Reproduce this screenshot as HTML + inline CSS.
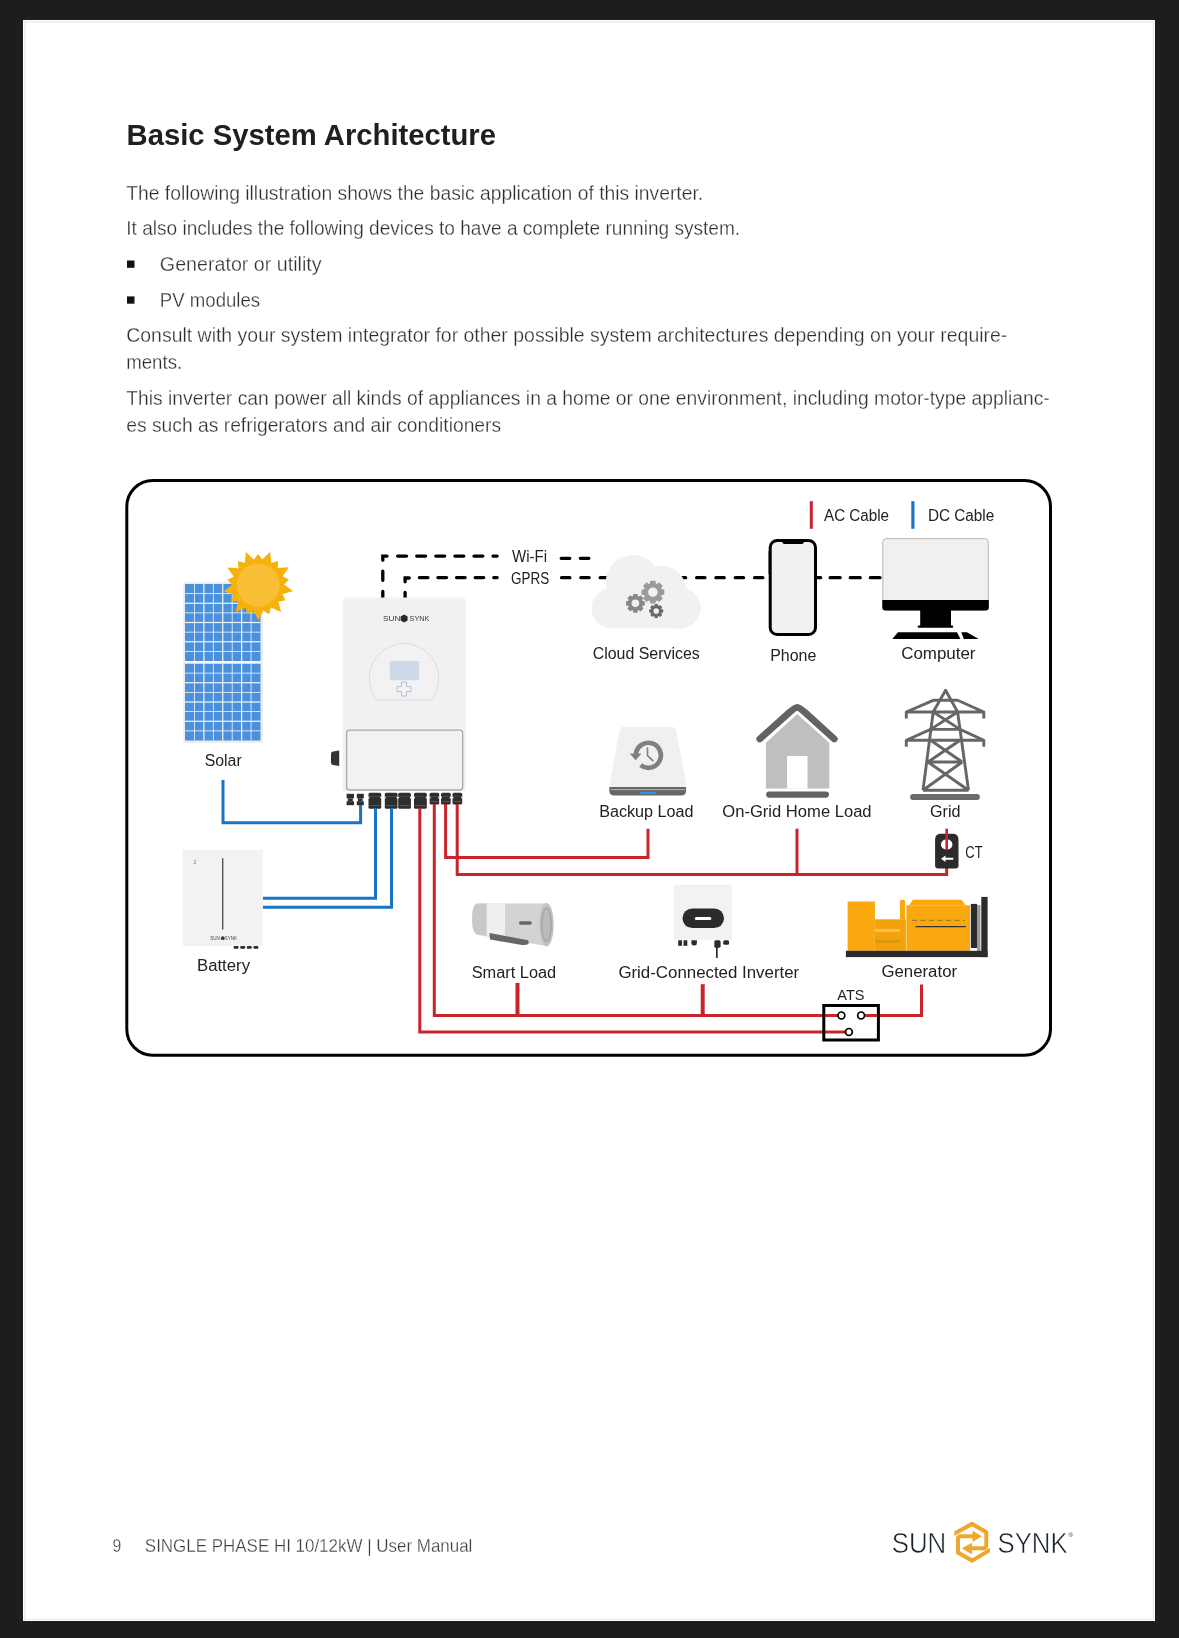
<!DOCTYPE html>
<html><head><meta charset="utf-8"><style>
html,body{margin:0;padding:0;background:#1d1d1f;}
body{width:1179px;height:1638px;position:relative;overflow:hidden;font-family:"Liberation Sans",sans-serif;}
.page{position:absolute;left:23px;top:20px;width:1132px;height:1601px;background:#fff;box-shadow:inset 1px 1px 0 #fff, inset 2.5px 2.5px 0 #ececec, inset -1px -1px 0 #fff, inset -2.5px -2.5px 0 #efefef;}
svg{position:absolute;left:0;top:0;}
svg text{font-family:"Liberation Sans",sans-serif;}
</style></head><body>
<div class="page"></div>
<svg width="1179" height="1638" viewBox="0 0 1179 1638">
<g style="will-change:transform">
<text x="126.60" y="144.70" font-size="30" fill="#1f1f1f" font-weight="bold" textLength="369.41" lengthAdjust="spacingAndGlyphs">Basic System Architecture</text>
<text x="126.25" y="200.40" font-size="20" fill="#2e2e2e" textLength="576.91" lengthAdjust="spacingAndGlyphs" stroke="#fff" stroke-width="0.3">The following illustration shows the basic application of this inverter.</text>
<text x="126.25" y="235.30" font-size="20" fill="#2e2e2e" textLength="613.90" lengthAdjust="spacingAndGlyphs" stroke="#fff" stroke-width="0.3">It also includes the following devices to have a complete running system.</text>
<rect x="127" y="260.5" width="7.5" height="7.3" fill="#111"/>
<text x="159.85" y="270.80" font-size="20" fill="#2e2e2e" textLength="161.79" lengthAdjust="spacingAndGlyphs" stroke="#fff" stroke-width="0.3">Generator or utility</text>
<rect x="127" y="296.4" width="7.5" height="7.3" fill="#111"/>
<text x="159.85" y="307.00" font-size="20" fill="#2e2e2e" textLength="100.29" lengthAdjust="spacingAndGlyphs" stroke="#fff" stroke-width="0.3">PV modules</text>
<text x="126.25" y="342.10" font-size="20" fill="#2e2e2e" textLength="881.09" lengthAdjust="spacingAndGlyphs" stroke="#fff" stroke-width="0.3">Consult with your system integrator for other possible system architectures depending on your require-</text>
<text x="126.25" y="369.00" font-size="20" fill="#2e2e2e" textLength="55.90" lengthAdjust="spacingAndGlyphs" stroke="#fff" stroke-width="0.3">ments.</text>
<text x="126.25" y="404.60" font-size="20" fill="#2e2e2e" textLength="923.51" lengthAdjust="spacingAndGlyphs" stroke="#fff" stroke-width="0.3">This inverter can power all kinds of appliances in a home or one environment, including motor-type applianc-</text>
<text x="126.25" y="432.00" font-size="20" fill="#2e2e2e" textLength="374.90" lengthAdjust="spacingAndGlyphs" stroke="#fff" stroke-width="0.3">es such as refrigerators and air conditioners</text>
<text x="112.55" y="1551.80" font-size="17.6" fill="#3c3c3c" textLength="8.80" lengthAdjust="spacingAndGlyphs" stroke="#fff" stroke-width="0.3">9</text>
<text x="144.85" y="1551.80" font-size="17.6" fill="#3c3c3c" textLength="327.51" lengthAdjust="spacingAndGlyphs" stroke="#fff" stroke-width="0.3">SINGLE PHASE HI 10/12kW | User Manual</text>
<text x="891.70" y="1552.90" font-size="29.5" fill="#18202a" textLength="54.61" lengthAdjust="spacingAndGlyphs" stroke="#fff" stroke-width="0.6">SUN</text>
<text x="997.50" y="1552.90" font-size="29.5" fill="#18202a" textLength="70.10" lengthAdjust="spacingAndGlyphs" stroke="#fff" stroke-width="0.6">SYNK</text>
<text x="1068.5" y="1537" font-size="6" fill="#1e2630">®</text>
<g fill="none" stroke="#f0a62c" stroke-width="4" stroke-linejoin="miter"><path d="M951.5,1535.3 L972,1523.9 L986.3,1532.2 V1545.2 Q986.3,1548.2 983.3,1548.2 H971"/><path d="M992.3,1548.6 L972,1560.6 L958,1552.5 V1539.3 Q958,1536.3 961,1536.3 H973"/></g>
<rect x="948" y="1526" width="6.3" height="14" fill="#fff"/><rect x="989.9" y="1543" width="6" height="13" fill="#fff"/>
<path d="M972.5,1530.8 L982,1536.3 L972.5,1542 Z" fill="#f0a62c"/>
<path d="M972,1542.8 L961.8,1548.2 L972,1554.4 Z" fill="#f0a62c"/>
<rect x="126.8" y="480.5" width="923.7" height="574.8" rx="26" ry="26" fill="none" stroke="#000" stroke-width="3"/>
<rect x="809.8" y="501.2" width="3" height="27.6" fill="#c8242b"/>
<text x="824.00" y="520.80" font-size="16" fill="#222" textLength="65.00" lengthAdjust="spacingAndGlyphs">AC Cable</text>
<rect x="911.3" y="501.2" width="3.2" height="27.6" fill="#1a74c4"/>
<text x="927.90" y="520.80" font-size="16" fill="#222" textLength="66.30" lengthAdjust="spacingAndGlyphs">DC Cable</text>
<rect x="183.3" y="582.3" width="79.4" height="160.4" fill="#ebebeb" rx="1"/>
<rect x="185" y="584" width="75.5" height="77" fill="#4a90dc" rx="1"/>
<rect x="194.04" y="584" width="0.8" height="77" fill="#f4f7fb"/>
<rect x="203.28" y="584" width="1.2" height="77" fill="#f4f7fb"/>
<rect x="212.91" y="584" width="0.8" height="77" fill="#f4f7fb"/>
<rect x="222.15" y="584" width="1.2" height="77" fill="#f4f7fb"/>
<rect x="231.79" y="584" width="0.8" height="77" fill="#f4f7fb"/>
<rect x="241.03" y="584" width="1.2" height="77" fill="#f4f7fb"/>
<rect x="250.66" y="584" width="0.8" height="77" fill="#f4f7fb"/>
<rect x="185" y="593.23" width="75.5" height="0.8" fill="#f4f7fb"/>
<rect x="185" y="602.65" width="75.5" height="1.2" fill="#f4f7fb"/>
<rect x="185" y="612.48" width="75.5" height="0.8" fill="#f4f7fb"/>
<rect x="185" y="621.90" width="75.5" height="1.2" fill="#f4f7fb"/>
<rect x="185" y="631.73" width="75.5" height="0.8" fill="#f4f7fb"/>
<rect x="185" y="641.15" width="75.5" height="1.2" fill="#f4f7fb"/>
<rect x="185" y="650.98" width="75.5" height="0.8" fill="#f4f7fb"/>
<rect x="185" y="663.5" width="75.5" height="77.0" fill="#4a90dc" rx="1"/>
<rect x="194.04" y="663.5" width="0.8" height="77.0" fill="#f4f7fb"/>
<rect x="203.28" y="663.5" width="1.2" height="77.0" fill="#f4f7fb"/>
<rect x="212.91" y="663.5" width="0.8" height="77.0" fill="#f4f7fb"/>
<rect x="222.15" y="663.5" width="1.2" height="77.0" fill="#f4f7fb"/>
<rect x="231.79" y="663.5" width="0.8" height="77.0" fill="#f4f7fb"/>
<rect x="241.03" y="663.5" width="1.2" height="77.0" fill="#f4f7fb"/>
<rect x="250.66" y="663.5" width="0.8" height="77.0" fill="#f4f7fb"/>
<rect x="185" y="672.73" width="75.5" height="0.8" fill="#f4f7fb"/>
<rect x="185" y="682.15" width="75.5" height="1.2" fill="#f4f7fb"/>
<rect x="185" y="691.98" width="75.5" height="0.8" fill="#f4f7fb"/>
<rect x="185" y="701.40" width="75.5" height="1.2" fill="#f4f7fb"/>
<rect x="185" y="711.23" width="75.5" height="0.8" fill="#f4f7fb"/>
<rect x="185" y="720.65" width="75.5" height="1.2" fill="#f4f7fb"/>
<rect x="185" y="730.48" width="75.5" height="0.8" fill="#f4f7fb"/>
<rect x="185" y="661" width="75.5" height="2.5" fill="#f8f8f8"/>
<polygon points="293.09,591.06 282.33,594.22 283.47,596.19 285.30,600.56 280.61,601.21 278.34,601.23 281.10,612.10 270.83,607.60 270.43,609.84 269.02,614.36 265.02,611.84 263.26,610.40 258.39,620.50 253.41,610.45 251.66,611.91 247.68,614.47 246.23,609.97 245.81,607.73 235.59,612.34 238.23,601.44 235.96,601.44 231.26,600.84 233.05,596.46 234.16,594.47 223.37,591.43 232.40,584.78 230.66,583.32 227.45,579.84 231.63,577.63 233.76,576.83 227.45,567.56 238.64,568.28 238.25,566.03 238.02,561.30 242.65,562.30 244.80,563.05 245.92,551.90 254.03,559.64 255.17,557.67 258.04,553.90 260.94,557.64 262.10,559.60 270.13,551.77 271.37,562.92 273.51,562.14 278.13,561.09 277.95,565.82 277.58,568.07 288.76,567.24 282.55,576.57 284.69,577.35 288.90,579.52 285.72,583.03 283.99,584.51" fill="#f6b10d"/>
<circle cx="258.2" cy="585.1" r="21.6" fill="#f8bf36"/>
<text x="204.70" y="765.70" font-size="16" fill="#222" textLength="36.99" lengthAdjust="spacingAndGlyphs">Solar</text>
<path d="M382.8,560.15 V556.1 H387" stroke="#000" stroke-width="3.3" fill="none" stroke-linecap="round"/>
<path d="M382.8,571.05 V580.35 M382.8,591.35 V598" stroke="#000" stroke-width="3.3" fill="none" stroke-linecap="round"/>
<path d="M397.65,556.1 H497.15" stroke="#000" stroke-width="3.3" fill="none" stroke-linecap="round" stroke-dasharray="8.9 10.18"/>
<path d="M561.2,558.3 H589.2" stroke="#000" stroke-width="3.3" fill="none" stroke-linecap="round" stroke-dasharray="8.6 10.5"/>
<path d="M405.1,581.85 V578 H409.25" stroke="#000" stroke-width="3.3" fill="none" stroke-linecap="round"/>
<path d="M405.1,592.45 V598" stroke="#000" stroke-width="3.3" fill="none" stroke-linecap="round"/>
<path d="M419.35,577.6 H497.15" stroke="#000" stroke-width="3.3" fill="none" stroke-linecap="round" stroke-dasharray="8.6 10"/>
<path d="M561.55,577.7 H766" stroke="#000" stroke-width="3.3" fill="none" stroke-linecap="round" stroke-dasharray="8.3 11"/>
<path d="M816,577.7 H820.6" stroke="#000" stroke-width="3.3" fill="none" stroke-linecap="round"/>
<path d="M830.15,577.7 H880" stroke="#000" stroke-width="3.3" fill="none" stroke-linecap="round" stroke-dasharray="10 10.1"/>
<text x="512.00" y="562.30" font-size="16" fill="#222" textLength="35.00" lengthAdjust="spacingAndGlyphs">Wi-Fi</text>
<text x="511.00" y="583.50" font-size="16" fill="#222" textLength="38.20" lengthAdjust="spacingAndGlyphs">GPRS</text>
<rect x="342.8" y="597.6" width="122.8" height="193.6" rx="3" fill="#f1f1f1"/>
<path d="M377,700 A34.7,34.7 0 1 1 431,700 Z" fill="#f2f2f2" stroke="#dedede" stroke-width="1"/>
<rect x="389.9" y="661" width="29.2" height="19.3" rx="1" fill="#cdd9e6"/>
<path d="M401.5,682 h5 v4.5 h4.5 v5 h-4.5 v4.5 h-5 v-4.5 h-4.5 v-5 h4.5 z" fill="none" stroke="#9bb6dd" stroke-width="0.8"/>
<text x="382.9" y="621.2" font-size="6.6" fill="#3a3a3a" textLength="17.5" lengthAdjust="spacingAndGlyphs">SUN</text><text x="409.6" y="621.2" font-size="6.6" fill="#3a3a3a" textLength="19.8" lengthAdjust="spacingAndGlyphs">SYNK</text>
<path d="M404.1,614.6 L407.6,616.6 V620.6 L404.1,622.6 L400.6,620.6 V616.6 Z" fill="#2a2a2a"/>
<rect x="346.6" y="730.2" width="116.1" height="59.8" rx="3" fill="#f2f2f2" stroke="#a9a9a9" stroke-width="1.3"/>
<path d="M333,751.5 L339.2,750.5 L339.2,766 L333,765 Q331,765 331,762 L331,754 Q331,751.8 333,751.5 Z" fill="#333"/>
<rect x="346.6" y="793.8" width="7.399999999999977" height="4.6" fill="#2e2e2e"/>
<rect x="347.8" y="798.4" width="4.999999999999977" height="2.8" fill="#2e2e2e"/>
<rect x="346.6" y="801.2" width="7.399999999999977" height="4" fill="#2e2e2e"/>
<rect x="356.8" y="793.8" width="7.0" height="4.6" fill="#2e2e2e"/>
<rect x="358.0" y="798.4" width="4.6" height="2.8" fill="#2e2e2e"/>
<rect x="356.8" y="801.2" width="7.0" height="4" fill="#2e2e2e"/>
<rect x="368.5" y="792.8" width="12.7" height="16.0" rx="1.5" fill="#2e2e2e"/>
<rect x="368.5" y="796.2" width="12.7" height="0.6" fill="#555"/>
<rect x="368.2" y="796.8" width="1.2" height="1.6" fill="#fff"/><rect x="380.3" y="796.8" width="1.2" height="1.6" fill="#fff"/>
<rect x="369.5" y="805.2" width="10.7" height="0.7" fill="#666"/>
<rect x="384.8" y="792.8" width="12.7" height="16.0" rx="1.5" fill="#2e2e2e"/>
<rect x="384.8" y="796.2" width="12.7" height="0.6" fill="#555"/>
<rect x="384.5" y="796.8" width="1.2" height="1.6" fill="#fff"/><rect x="396.6" y="796.8" width="1.2" height="1.6" fill="#fff"/>
<rect x="385.8" y="805.2" width="10.7" height="0.7" fill="#666"/>
<rect x="398.2" y="792.8" width="12.7" height="16.0" rx="1.5" fill="#2e2e2e"/>
<rect x="398.2" y="796.2" width="12.7" height="0.6" fill="#555"/>
<rect x="397.9" y="796.8" width="1.2" height="1.6" fill="#fff"/><rect x="410.0" y="796.8" width="1.2" height="1.6" fill="#fff"/>
<rect x="399.2" y="805.2" width="10.7" height="0.7" fill="#666"/>
<rect x="414" y="792.8" width="12.8" height="16.0" rx="1.5" fill="#2e2e2e"/>
<rect x="414" y="796.2" width="12.8" height="0.6" fill="#555"/>
<rect x="413.7" y="796.8" width="1.2" height="1.6" fill="#fff"/><rect x="425.90000000000003" y="796.8" width="1.2" height="1.6" fill="#fff"/>
<rect x="415" y="805.2" width="10.8" height="0.7" fill="#666"/>
<rect x="429.6" y="792.8" width="9.6" height="11.8" rx="1.5" fill="#2e2e2e"/>
<rect x="429.6" y="796.2" width="9.6" height="0.6" fill="#555"/>
<rect x="429.3" y="796.8" width="1.2" height="1.6" fill="#fff"/><rect x="438.3" y="796.8" width="1.2" height="1.6" fill="#fff"/>
<rect x="430.6" y="801.0" width="7.6" height="0.7" fill="#666"/>
<rect x="441" y="792.8" width="9.7" height="11.8" rx="1.5" fill="#2e2e2e"/>
<rect x="441" y="796.2" width="9.7" height="0.6" fill="#555"/>
<rect x="440.7" y="796.8" width="1.2" height="1.6" fill="#fff"/><rect x="449.8" y="796.8" width="1.2" height="1.6" fill="#fff"/>
<rect x="442" y="801.0" width="7.7" height="0.7" fill="#666"/>
<rect x="452.5" y="792.8" width="9.7" height="11.8" rx="1.5" fill="#2e2e2e"/>
<rect x="452.5" y="796.2" width="9.7" height="0.6" fill="#555"/>
<rect x="452.2" y="796.8" width="1.2" height="1.6" fill="#fff"/><rect x="461.3" y="796.8" width="1.2" height="1.6" fill="#fff"/>
<rect x="453.5" y="801.0" width="7.7" height="0.7" fill="#666"/>
<path d="M223,780 V822.7 H360.6 V805" stroke="#1a74c4" fill="none" stroke-width="3" stroke-linejoin="miter"/>
<path d="M262.8,898.3 H375.5 V808" stroke="#1a74c4" fill="none" stroke-width="3" stroke-linejoin="miter"/>
<path d="M262.8,907.2 H391.5 V808" stroke="#1a74c4" fill="none" stroke-width="3" stroke-linejoin="miter"/>
<path d="M419.8,808 V1031.9 H845.5" stroke="#c8242b" fill="none" stroke-width="3" stroke-linejoin="miter"/>
<path d="M434.3,804 V1015.4 H838" stroke="#c8242b" fill="none" stroke-width="3" stroke-linejoin="miter"/>
<path d="M445.6,804 V857.5 H648 V828.7" stroke="#c8242b" fill="none" stroke-width="3" stroke-linejoin="miter"/>
<path d="M457.2,804 V874.6 H946.7 V866" stroke="#c8242b" fill="none" stroke-width="3" stroke-linejoin="miter"/>
<path d="M797,828.7 V874.6" stroke="#c8242b" fill="none" stroke-width="3" stroke-linejoin="miter"/>
<path d="M517.5,982.9 V1015.4" stroke="#c8242b" fill="none" stroke-width="4"/>
<path d="M702.7,984.2 V1015.4" stroke="#c8242b" fill="none" stroke-width="4"/>
<path d="M864.6,1015.4 H921.5 V984.4" stroke="#c8242b" fill="none" stroke-width="3" stroke-linejoin="miter"/>
<rect x="182.6" y="849.8" width="80.2" height="96.1" fill="#f2f2f2"/>
<rect x="222" y="858.2" width="1.4" height="71.4" fill="#555"/>
<text x="193.5" y="863.5" font-size="5" fill="#777">2</text>
<text x="223.6" y="940" font-size="4.5" text-anchor="middle" fill="#444">SUN<tspan fill="#f2f2f2">__</tspan>SYNK</text>
<circle cx="222.8" cy="938.2" r="1.9" fill="#333"/>
<rect x="233.6" y="945.9" width="5" height="2.8" rx="1" fill="#2e2e2e"/>
<rect x="240.2" y="945.9" width="5" height="2.8" rx="1" fill="#2e2e2e"/>
<rect x="246.8" y="945.9" width="5" height="2.8" rx="1" fill="#2e2e2e"/>
<rect x="253.4" y="945.9" width="5" height="2.8" rx="1" fill="#2e2e2e"/>
<text x="197.00" y="970.60" font-size="16" fill="#222" textLength="53.00" lengthAdjust="spacingAndGlyphs">Battery</text>
<g fill="#f1f1f1"><circle cx="611.4" cy="608.3" r="20"/><circle cx="633" cy="582.2" r="27.2"/><circle cx="662" cy="590" r="24"/><circle cx="680" cy="608" r="20.6"/><rect x="611" y="595" width="69" height="33.3"/></g>
<path d="M661.74,589.31 L664.32,589.65 L664.32,594.75 L661.74,595.09 L661.19,596.41 L662.78,598.47 L659.17,602.08 L657.11,600.49 L655.79,601.04 L655.45,603.62 L650.35,603.62 L650.01,601.04 L648.69,600.49 L646.63,602.08 L643.02,598.47 L644.61,596.41 L644.06,595.09 L641.48,594.75 L641.48,589.65 L644.06,589.31 L644.61,587.99 L643.02,585.93 L646.63,582.32 L648.69,583.91 L650.01,583.36 L650.35,580.78 L655.45,580.78 L655.79,583.36 L657.11,583.91 L659.17,582.32 L662.78,585.93 L661.19,587.99 Z M657.6999999999999,592.2 A4.8,4.8 0 1 0 648.1,592.2 A4.8,4.8 0 1 0 657.6999999999999,592.2 Z" fill="#9a9a9a" fill-rule="evenodd"/>
<path d="M642.62,600.94 L644.77,601.21 L644.77,605.39 L642.62,605.66 L642.18,606.74 L643.51,608.44 L640.54,611.41 L638.84,610.08 L637.76,610.52 L637.49,612.67 L633.31,612.67 L633.04,610.52 L631.96,610.08 L630.26,611.41 L627.29,608.44 L628.62,606.74 L628.18,605.66 L626.03,605.39 L626.03,601.21 L628.18,600.94 L628.62,599.86 L627.29,598.16 L630.26,595.19 L631.96,596.52 L633.04,596.08 L633.31,593.93 L637.49,593.93 L637.76,596.08 L638.84,596.52 L640.54,595.19 L643.51,598.16 L642.18,599.86 Z M639.1999999999999,603.3 A3.8,3.8 0 1 0 631.6,603.3 A3.8,3.8 0 1 0 639.1999999999999,603.3 Z" fill="#888" fill-rule="evenodd"/>
<path d="M661.62,609.23 L663.23,609.43 L663.23,612.57 L661.62,612.77 L661.28,613.58 L662.28,614.86 L660.06,617.08 L658.78,616.08 L657.97,616.42 L657.77,618.03 L654.63,618.03 L654.43,616.42 L653.62,616.08 L652.34,617.08 L650.12,614.86 L651.12,613.58 L650.78,612.77 L649.17,612.57 L649.17,609.43 L650.78,609.23 L651.12,608.42 L650.12,607.14 L652.34,604.92 L653.62,605.92 L654.43,605.58 L654.63,603.97 L657.77,603.97 L657.97,605.58 L658.78,605.92 L660.06,604.92 L662.28,607.14 L661.28,608.42 Z M659.0,611.0 A2.8,2.8 0 1 0 653.4000000000001,611.0 A2.8,2.8 0 1 0 659.0,611.0 Z" fill="#696969" fill-rule="evenodd"/>
<text x="592.70" y="659.30" font-size="16" fill="#222" textLength="107.10" lengthAdjust="spacingAndGlyphs">Cloud Services</text>
<rect x="770.2" y="540.4" width="45.3" height="94.1" rx="7" fill="#f1f1f1" stroke="#000" stroke-width="3"/>
<rect x="782.5" y="539.5" width="21.2" height="4.6" rx="1.8" fill="#000"/>
<rect x="768.6" y="551" width="1.6" height="23" fill="#000"/>
<text x="770.20" y="661.40" font-size="16" fill="#222" textLength="46.19" lengthAdjust="spacingAndGlyphs">Phone</text>
<rect x="882.8" y="538.6" width="105.5" height="71.5" rx="3.5" fill="#f0f0f0" stroke="#b8b8b8" stroke-width="1"/>
<path d="M882.3,600.1 H988.8 V607.4 Q988.8,610.4 985.8,610.4 H885.3 Q882.3,610.4 882.3,607.4 Z" fill="#000"/>
<rect x="920.2" y="610" width="30.8" height="16" fill="#000"/>
<rect x="917.6" y="625.5" width="35.6" height="2.2" rx="1" fill="#000"/>
<path d="M898,632.2 H957 L960.5,638.9 H892.3 Z" fill="#000"/>
<path d="M961.3,632.2 H967 L978.7,638.9 H963.8 Z" fill="#000"/>
<text x="901.20" y="659.30" font-size="16" fill="#222" textLength="74.29" lengthAdjust="spacingAndGlyphs">Computer</text>
<path d="M622.5,726.9 H672.5 Q675.5,726.9 676,729.9 L686.1,784 Q686.1,787.1 683,787.1 H612.4 Q609.3,787.1 609.8,784 L619.5,729.9 Q620,726.9 622.5,726.9 Z" fill="#f0f0f0"/>
<path d="M609.3,787.1 H686.1 V790.6 Q686.1,795.6 681.1,795.6 H614.3 Q609.3,795.6 609.3,790.6 Z" fill="#666"/>
<rect x="610.5" y="789.2" width="74.5" height="0.9" fill="#bdbdbd"/>
<rect x="639.9" y="791.8" width="16.1" height="2.1" fill="#3b8ee6"/>
<path d="M635.9,754.2 A12.5,12.5 0 1 1 640.65,765.15" fill="none" stroke="#808080" stroke-width="4.7"/>
<path d="M629.7,753.6 L641.6,753.6 L635.6,760.2 Z" fill="#808080"/>
<path d="M647.5,747.2 V755.7 L653.4,761.2" fill="none" stroke="#808080" stroke-width="1.6"/>
<text x="599.20" y="816.60" font-size="16" fill="#222" textLength="94.30" lengthAdjust="spacingAndGlyphs">Backup Load</text>
<path d="M797.2,714 L829.3,742.7 V788.5 H765.9 V742.7 Z" fill="#bfbfbf"/>
<rect x="787" y="756" width="20.5" height="32.6" fill="#fff"/>
<path d="M759.7,739 L789.2,712.6 C797.2,705.5 797.2,705.5 805.2,712.6 L834.3,739" fill="none" stroke="#636363" stroke-width="6.8" stroke-linecap="round" stroke-linejoin="round"/>
<path d="M769.2,794.6 H825.9" stroke="#636363" stroke-width="6.2" stroke-linecap="round"/>
<text x="722.30" y="816.60" font-size="16" fill="#222" textLength="149.30" lengthAdjust="spacingAndGlyphs">On-Grid Home Load</text>
<path d="M933.2,712 L945.6,690.3 L957.6,712" fill="none" stroke="#666" stroke-width="2.9" stroke-linejoin="round"/>
<path d="M933.2,712 L923,790.3 M957.6,712 L968.5,790.3" fill="none" stroke="#666" stroke-width="2.9" stroke-linejoin="round"/>
<path d="M906.3,718.5 V712 L933.2,700.3 H957.6 L983.8,712 V718.5 M906.3,712 H983.8" fill="none" stroke="#666" stroke-width="2.9" stroke-linejoin="round"/>
<path d="M906.3,746.7 V740.3 L930.6,729.4 H960.1 L983.8,740.3 V746.7 M906.3,740.3 H983.8" fill="none" stroke="#666" stroke-width="2.9" stroke-linejoin="round"/>
<path d="M933.2,712 L960.1,729.4 M957.6,712 L930.6,729.4" fill="none" stroke="#666" stroke-width="2.9" stroke-linejoin="round"/>
<path d="M930.6,740.3 L962.2,762 M960.1,740.3 L928,762 M928,762 H962.2" fill="none" stroke="#666" stroke-width="2.9" stroke-linejoin="round"/>
<path d="M928,762 L968.5,790.3 M962.2,762 L923,790.3 M923,790.3 H968.5" fill="none" stroke="#666" stroke-width="2.9" stroke-linejoin="round"/>
<path d="M913,797 H977" stroke="#6b6b6b" stroke-width="5.8" stroke-linecap="round"/>
<text x="930.00" y="816.50" font-size="16" fill="#222" textLength="30.50" lengthAdjust="spacingAndGlyphs">Grid</text>
<path d="M941,833.8 H952.6 Q958.5,833.8 958.5,839.7 V865.5 Q958.5,868.5 955.5,868.5 H938.1 Q935.1,868.5 935.1,865.5 V839.7 Q935.1,833.8 941,833.8 Z" fill="#2b2b2b"/>
<rect x="941" y="839.6" width="11.4" height="9.8" rx="4.9" fill="#fff"/>
<path d="M946.7,828.7 V850" stroke="#c8242b" stroke-width="2.6"/>
<path d="M941,858.8 L945.5,855.5 V857.8 H953.3 V859.8 H945.5 V862.1 Z" fill="#fff"/>
<text x="965.30" y="857.60" font-size="16" fill="#222" textLength="17.30" lengthAdjust="spacingAndGlyphs">CT</text>
<path d="M478,903.4 H546.5 V946 L478,935 Q472.2,934 472.2,919 Q472.2,903.4 478,903.4 Z" fill="#d3d3d3"/>
<path d="M486.5,903.4 H505 V938 L486.5,935.3 Z" fill="#efefef"/>
<path d="M478,903.4 H486.5 V935.3 L478,934.5 Q472.2,933 472.2,919 Q472.2,903.4 478,903.4 Z" fill="#c9c9c9"/>
<ellipse cx="546.5" cy="924.7" rx="7.3" ry="21.8" fill="#c2c2c2"/>
<ellipse cx="546.5" cy="924.7" rx="4.8" ry="16.5" fill="#bbb" stroke="#a3a3a3" stroke-width="1.3"/>
<rect x="519" y="921.2" width="12.8" height="3.6" rx="1.8" fill="#666"/>
<path d="M489.5,932.9 L527,940 Q529.5,941 528.5,943.5 Q527,945.5 522,945 L490,939.5 Z" fill="#666"/>
<text x="471.70" y="977.70" font-size="16" fill="#222" textLength="84.51" lengthAdjust="spacingAndGlyphs">Smart Load</text>
<rect x="674" y="884.8" width="58.1" height="55.1" fill="#f2f2f2"/>
<rect x="682.5" y="908.5" width="41.5" height="19.5" rx="9.75" fill="#2b2b2b"/>
<rect x="694.8" y="917" width="16.5" height="3" rx="1.5" fill="#fff"/>
<rect x="678.2" y="940.3" width="3.8" height="5.5" fill="#2b2b2b"/><rect x="683.5" y="940.3" width="3.8" height="5.5" fill="#2b2b2b"/>
<path d="M691.4,940.3 H696.9 V943 Q696.9,945.5 694.1,945.5 Q691.4,945.5 691.4,943 Z" fill="#2b2b2b"/>
<rect x="714.3" y="940.3" width="6.3" height="7.5" rx="1.5" fill="#2b2b2b"/>
<rect x="716" y="946" width="1.7" height="12" fill="#2b2b2b"/>
<rect x="723.2" y="940.3" width="5.9" height="4.5" rx="1.5" fill="#2b2b2b"/>
<text x="618.40" y="977.50" font-size="16" fill="#222" textLength="180.80" lengthAdjust="spacingAndGlyphs">Grid-Connected Inverter</text>
<rect x="847.6" y="901.5" width="27.3" height="49.3" fill="#f9a90f"/>
<rect x="874.9" y="919.3" width="31" height="31.5" fill="#f3a10c"/>
<rect x="875" y="929" width="25" height="3" fill="#f9bd55"/>
<rect x="875" y="940" width="25" height="3" fill="#e29708"/>
<rect x="900" y="899.7" width="5" height="20" rx="1.5" fill="#f9a90f"/>
<rect x="906.4" y="905.3" width="63.6" height="45.5" fill="#f9a90f"/>
<path d="M913,899.7 H961.5 L965.5,905.3 H909 Z" fill="#f9a90f"/>
<path d="M912,920.3 H965" stroke="#8a6a2a" stroke-width="0.9" stroke-dasharray="5 3.5"/>
<path d="M915.5,926.7 H965.9" stroke="#333" stroke-width="1.2"/>
<rect x="970.8" y="903.9" width="6.3" height="44.1" fill="#2b2b2b"/>
<rect x="977" y="905" width="3.5" height="46" fill="#999"/>
<rect x="981.3" y="896.9" width="6.3" height="60.2" fill="#2b2b2b"/>
<rect x="845.9" y="950.8" width="141.7" height="6.3" fill="#2b2b2b"/>
<text x="881.40" y="977.40" font-size="16" fill="#222" textLength="75.71" lengthAdjust="spacingAndGlyphs">Generator</text>
<rect x="823.8" y="1005.5" width="54.6" height="34.5" fill="none" stroke="#000" stroke-width="3"/>
<circle cx="841.4" cy="1015.4" r="3.4" fill="#fff" stroke="#000" stroke-width="1.7"/>
<circle cx="861.1" cy="1015.4" r="3.4" fill="#fff" stroke="#000" stroke-width="1.7"/>
<circle cx="848.9" cy="1031.9" r="3.4" fill="#fff" stroke="#000" stroke-width="1.7"/>
<text x="837.30" y="1000.40" font-size="15" fill="#222" textLength="27.19" lengthAdjust="spacingAndGlyphs">ATS</text>
</g>
</svg>
</body></html>
